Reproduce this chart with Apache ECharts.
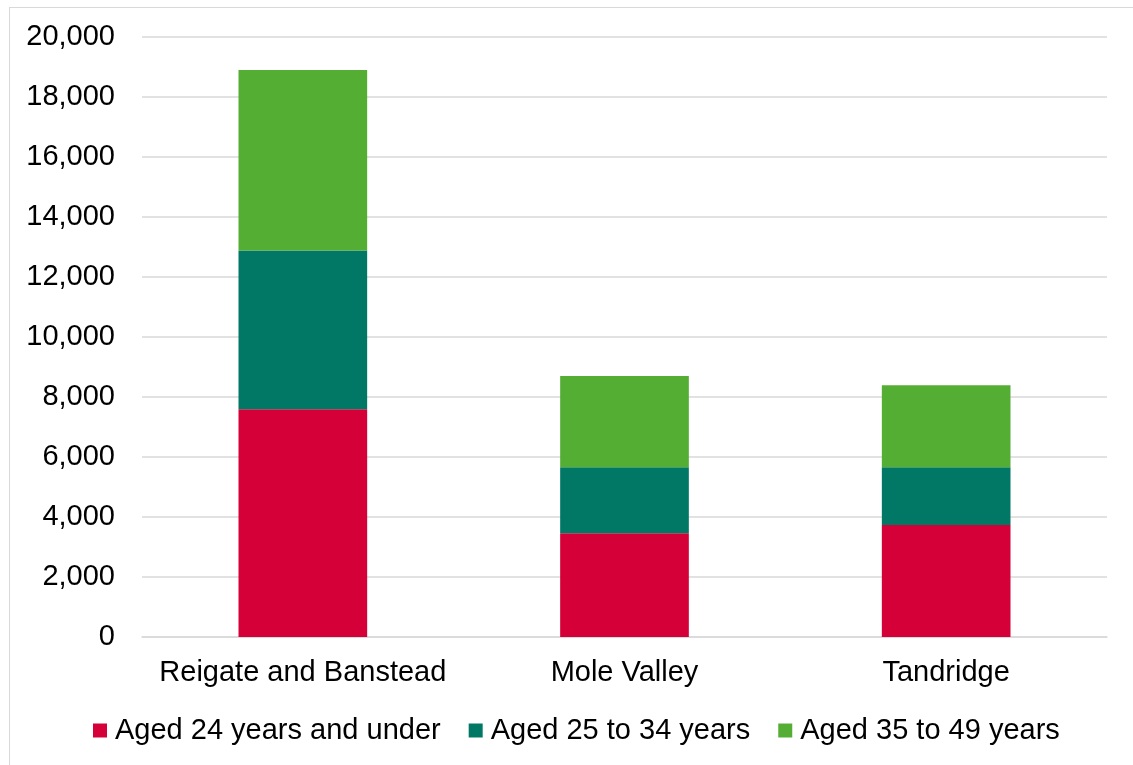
<!DOCTYPE html>
<html>
<head>
<meta charset="utf-8">
<script src="https://cdn.jsdelivr.net/npm/echarts@6/dist/echarts.min.js"></script>
<style>
  html, body { margin: 0; padding: 0; background: #fff; }
  #frame { position: absolute; left: 9px; top: 7px; width: 1200px; height: 800px;
           border-left: 1.5px solid #d9d9d9; border-top: 1.5px solid #d9d9d9; }
  #chart { position: absolute; left: 0; top: 0; width: 1133px; height: 765px; }
</style>
</head>
<body>
<div id="frame"></div>
<div id="chart"></div>
<script>
// Districts and age-band counts
const districts = ['Reigate and Banstead', 'Mole Valley', 'Tandridge'];
const aged24AndUnder = [7590, 3460, 3730];
const aged25to34 = [5290, 2200, 1930];
const aged35to49 = [6020, 3040, 2730];
const seriesNames = ['Aged 24 years and under', 'Aged 25 to 34 years', 'Aged 35 to 49 years'];
const seriesColors = ['#D50037', '#007865', '#54AE34'];

const FONT = 'Liberation Sans, Arial, sans-serif';
const chart = echarts.init(document.getElementById('chart'), null, { renderer: 'canvas' });

const values = [aged24AndUnder, aged25to34, aged35to49];

chart.setOption({
  animation: false,
  backgroundColor: 'transparent',
  textStyle: { fontFamily: FONT },
  grid: { left: 142, right: 26, top: 37, bottom: 128, containLabel: false },
  legend: {
    left: 93, top: 716, padding: 0, itemWidth: 14, itemHeight: 14, itemGap: 28,
    icon: 'rect',
    textStyle: { fontFamily: FONT, fontSize: 29, color: '#000', padding: [0, 0, 0, 3] },
    data: seriesNames
  },
  xAxis: {
    type: 'category',
    data: districts,
    axisLine: { show: true, lineStyle: { color: '#d9d9d9', width: 1.5 } },
    axisTick: { show: false },
    axisLabel: { fontFamily: FONT, fontSize: 29, color: '#000', margin: 21, interval: 0 }
  },
  yAxis: {
    type: 'value',
    min: 0, max: 20000, interval: 2000,
    axisLine: { show: false },
    axisTick: { show: false },
    splitLine: { lineStyle: { color: '#d9d9d9', width: 1.5 } },
    axisLabel: {
      fontFamily: FONT, fontSize: 29, color: '#000', margin: 27,
      formatter: v => v.toLocaleString('en-US')
    }
  },
  series: seriesNames.map((name, i) => ({
    name,
    type: 'bar',
    stack: 'total',
    barWidth: '40%',
    itemStyle: { color: seriesColors[i] },
    data: values[i]
  }))
});
</script>
</body>
</html>
